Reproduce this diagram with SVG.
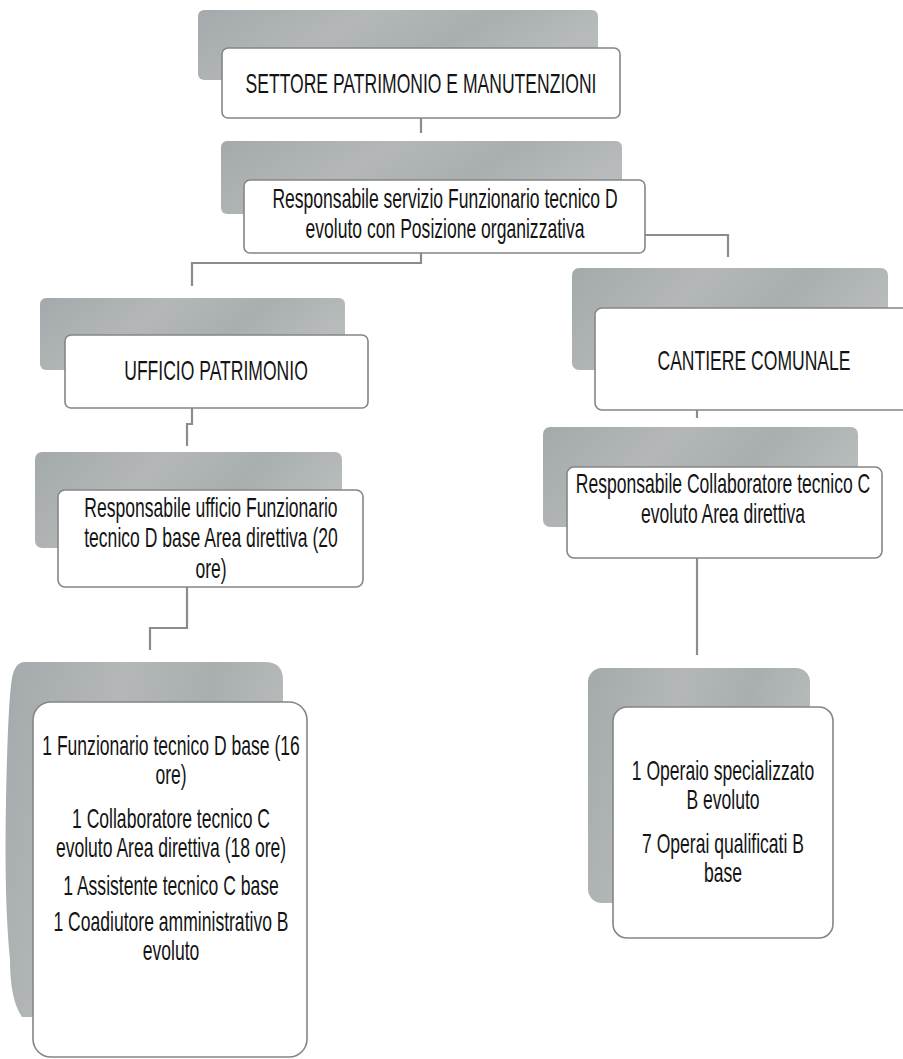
<svg xmlns="http://www.w3.org/2000/svg" width="903" height="1059" viewBox="0 0 903 1059">
<defs>
<linearGradient id="sh" x1="0" y1="0" x2="1" y2="0.3">
<stop offset="0" stop-color="#a4a9ab"/>
<stop offset="0.4" stop-color="#b3b7b8"/>
<stop offset="0.7" stop-color="#a9aeaf"/>
<stop offset="1" stop-color="#b7bbbb"/>
</linearGradient>
<style>
.sh{fill:url(#sh);stroke:none}
.bx{fill:#ffffff;stroke:#858585;stroke-width:1.6}
.t{font-family:"Liberation Sans",Arial,sans-serif;font-size:27px;fill:#141414;text-anchor:middle}
.c{fill:none;stroke:#8c8c8c;stroke-width:2.2}
</style>
</defs>
<rect width="903" height="1059" fill="#ffffff"/>
<g id="connectors">
<path class="c" d="M421,118 V133"/>
<path class="c" d="M421,253 V263 H192 V286"/>
<path class="c" d="M645,235 H728 V257"/>
<path class="c" d="M192,408 V424 H187 V446"/>
<path class="c" d="M187,587 V628 H150 V650"/>
<path class="c" d="M697,410 V418"/>
<path class="c" d="M697,558 V655"/>
</g>
<g id="n-settore">
<rect class="sh" x="198" y="10" width="400" height="70" rx="6"/>
<rect class="bx" x="222" y="48" width="398" height="70" rx="6"/>
<text class="t" transform="translate(421,0) scale(0.65,1)" x="0" y="93">SETTORE PATRIMONIO E MANUTENZIONI</text>
</g>
<g id="n-responsabile-servizio">
<rect class="sh" x="221" y="141" width="401" height="73" rx="6"/>
<rect class="bx" x="244" y="180" width="401" height="73" rx="6"/>
<text class="t" transform="translate(445,0) scale(0.65,1)" x="0" y="208">Responsabile servizio Funzionario tecnico D</text>
<text class="t" transform="translate(445,0) scale(0.65,1)" x="0" y="238">evoluto con Posizione organizzativa</text>
</g>
<g id="n-ufficio">
<rect class="sh" x="40" y="298" width="305" height="72" rx="6"/>
<rect class="bx" x="65" y="335" width="303" height="73" rx="6"/>
<text class="t" transform="translate(216,0) scale(0.65,1)" x="0" y="380">UFFICIO PATRIMONIO</text>
</g>
<g id="n-cantiere">
<rect class="sh" x="572" y="268" width="316" height="102" rx="7"/>
<rect class="bx" x="595" y="308" width="330" height="102" rx="7"/>
<text class="t" transform="translate(754,0) scale(0.65,1)" x="0" y="370">CANTIERE COMUNALE</text>
</g>
<g id="n-resp-ufficio">
<rect class="sh" x="35" y="452" width="307" height="96" rx="7"/>
<rect class="bx" x="58" y="490" width="305" height="97" rx="7"/>
<text class="t" transform="translate(211,0) scale(0.65,1)" x="0" y="517">Responsabile ufficio Funzionario</text>
<text class="t" transform="translate(211,0) scale(0.65,1)" x="0" y="547">tecnico D base Area direttiva (20</text>
<text class="t" transform="translate(211,0) scale(0.65,1)" x="0" y="578">ore)</text>
</g>
<g id="n-resp-cantiere">
<rect class="sh" x="543" y="427" width="315" height="100" rx="7"/>
<rect class="bx" x="567" y="467" width="315" height="91" rx="7"/>
<text class="t" transform="translate(723,0) scale(0.65,1)" x="0" y="493">Responsabile Collaboratore tecnico C</text>
<text class="t" transform="translate(723,0) scale(0.65,1)" x="0" y="523">evoluto Area direttiva</text>
</g>
<g id="n-staff-ufficio">
<path class="sh" d="M25,662 H265 Q283,662 283,680 V1017 H22 Q10,1000 10,960 Q4,900 6,800 Q8,700 12,678 Q15,662 25,662 Z"/>
<rect class="bx" x="33" y="702" width="274" height="355" rx="18"/>
<text class="t" transform="translate(171,0) scale(0.65,1)" x="0" y="755">1 Funzionario tecnico D base (16</text>
<text class="t" transform="translate(171,0) scale(0.65,1)" x="0" y="784">ore)</text>
<text class="t" transform="translate(171,0) scale(0.65,1)" x="0" y="828">1 Collaboratore tecnico C</text>
<text class="t" transform="translate(171,0) scale(0.65,1)" x="0" y="857">evoluto Area direttiva (18 ore)</text>
<text class="t" transform="translate(171,0) scale(0.65,1)" x="0" y="895">1 Assistente tecnico C base</text>
<text class="t" transform="translate(171,0) scale(0.65,1)" x="0" y="931">1 Coadiutore amministrativo B</text>
<text class="t" transform="translate(171,0) scale(0.65,1)" x="0" y="960">evoluto</text>
</g>
<g id="n-staff-cantiere">
<rect class="sh" x="588" y="668" width="222" height="235" rx="14"/>
<rect class="bx" x="613" y="707" width="220" height="231" rx="14"/>
<text class="t" transform="translate(723,0) scale(0.65,1)" x="0" y="780">1 Operaio specializzato</text>
<text class="t" transform="translate(723,0) scale(0.65,1)" x="0" y="809">B evoluto</text>
<text class="t" transform="translate(723,0) scale(0.65,1)" x="0" y="853">7 Operai qualificati B</text>
<text class="t" transform="translate(723,0) scale(0.65,1)" x="0" y="882">base</text>
</g>
</svg>
